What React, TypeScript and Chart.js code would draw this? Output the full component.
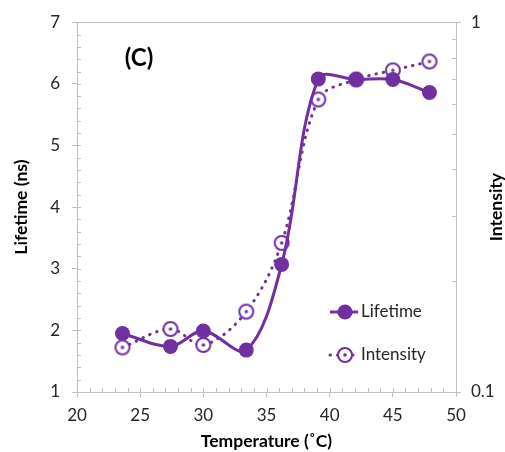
import React, { useEffect, useRef } from 'react';
import { Chart, registerables } from 'chart.js';

Chart.register(...registerables);

// ---- data ----
const temperatures = [23.6, 27.4, 30.0, 33.4, 36.2, 39.1, 42.1, 45.0, 47.9];
const lifetime = [1.95, 1.74, 1.99, 1.68, 3.07, 6.08, 6.07, 6.07, 5.86];
const intensity = [0.132, 0.148, 0.134, 0.165, 0.253, 0.618, 0.70, 0.741, 0.783];
const xTickValues = [20, 25, 30, 35, 40, 45, 50];
const leftTickValues = [1, 2, 3, 4, 5, 6, 7];
const rightTickValues = [0.1, 1];
const seriesLabels = ['Lifetime', 'Intensity'];
const panelLabel = '(C)';
const xTitle = 'Temperature (\u02DAC)';
const leftTitle = 'Lifetime (ns)';
const rightTitle = 'Intensity';

const PURPLE = '#7030A0';
const AXIS = '#BFBFBF';
const TEXT = '#262626';
const FONT = 'Lato, "Open Sans", sans-serif';

function makeRingMarker(): HTMLCanvasElement {
  const c = document.createElement('canvas');
  c.width = 18;
  c.height = 18;
  const g = c.getContext('2d')!;
  g.beginPath();
  g.arc(9, 9, 7, 0, Math.PI * 2);
  g.fillStyle = '#ffffff';
  g.fill();
  g.lineWidth = 2;
  g.strokeStyle = PURPLE;
  g.stroke();
  g.beginPath();
  g.arc(9, 9, 1.8, 0, Math.PI * 2);
  g.fillStyle = PURPLE;
  g.fill();
  return c;
}

export default function App() {
  const ref = useRef<HTMLCanvasElement | null>(null);

  useEffect(() => {
    if (!ref.current) return;
    const ring = makeRingMarker();

    const decorPlugin = {
      id: 'decor',
      afterDraw(chart: any) {
        const { ctx, chartArea, scales } = chart;
        const { left, right, top, bottom } = chartArea;
        const x = scales.x, y = scales.y, y1 = scales.y1;
        ctx.save();
        ctx.strokeStyle = AXIS;
        ctx.lineWidth = 1;
        const line = (x1: number, yA: number, x2: number, yB: number) => {
          ctx.beginPath();
          ctx.moveTo(x1, yA);
          ctx.lineTo(x2, yB);
          ctx.stroke();
        };
        // top border
        line(left, Math.round(top) + 0.5, right, Math.round(top) + 0.5);
        // x minor/inside ticks
        for (let v = 20; v <= 50; v++) {
          const px = Math.round(x.getPixelForValue(v)) + 0.5;
          line(px, bottom, px, bottom - 4);
        }
        // left inside ticks every 0.2
        for (let i = 0; i <= 30; i++) {
          const v = 1 + i * 0.2;
          const py = Math.round(y.getPixelForValue(v)) + 0.5;
          line(left, py, left + 4, py);
        }
        // right inside ticks (log minor)
        for (let i = 1; i <= 10; i++) {
          const v = i / 10;
          const py = Math.round(y1.getPixelForValue(v)) + 0.5;
          line(right, py, right - 4, py);
        }

        // panel label
        ctx.fillStyle = '#000';
        ctx.font = `bold 24px ${FONT}`;
        ctx.textAlign = 'center';
        ctx.textBaseline = 'middle';
        ctx.fillText(panelLabel, 139, 58);

        // right title
        ctx.save();
        ctx.translate(496, (top + bottom) / 2);
        ctx.rotate(-Math.PI / 2);
        ctx.font = `bold 17.5px ${FONT}`;
        ctx.fillStyle = '#000';
        ctx.textAlign = 'center';
        ctx.textBaseline = 'middle';
        ctx.fillText(rightTitle, 0, 0);
        ctx.restore();

        // legend
        const lx1 = 330, lx2 = 358, mx = 345;
        const rows = [312, 355];
        ctx.strokeStyle = PURPLE;
        ctx.lineWidth = 3;
        ctx.lineCap = 'butt';
        line(lx1, rows[0], lx2, rows[0]);
        ctx.beginPath();
        ctx.arc(mx, rows[0], 7.5, 0, Math.PI * 2);
        ctx.fillStyle = PURPLE;
        ctx.fill();
        ctx.setLineDash([0.5, 7]);
        ctx.lineCap = 'round';
        line(lx1, rows[1], lx2, rows[1]);
        ctx.setLineDash([]);
        ctx.drawImage(ring, mx - ring.width / 2, rows[1] - ring.height / 2);
        ctx.fillStyle = TEXT;
        ctx.font = `17px ${FONT}`;
        ctx.textAlign = 'left';
        ctx.textBaseline = 'middle';
        ctx.fillText(seriesLabels[0], 361, rows[0]);
        ctx.fillText(seriesLabels[1], 361, rows[1]);
        ctx.restore();
      },
    };

    const tickFont = { size: 17, family: FONT };
    const titleFont = { size: 17.5, weight: 'bold', family: FONT };

    const chart = new Chart(ref.current, {
      type: 'line',
      data: {
        datasets: [
          {
            label: seriesLabels[0],
            data: temperatures.map((t, i) => ({ x: t, y: lifetime[i] })),
            yAxisID: 'y',
            borderColor: PURPLE,
            backgroundColor: PURPLE,
            borderWidth: 3,
            tension: 0.35,
            pointRadius: 7.5,
            pointBorderWidth: 0,
            pointBackgroundColor: PURPLE,
          },
          {
            label: seriesLabels[1],
            data: temperatures.map((t, i) => ({ x: t, y: intensity[i] })),
            yAxisID: 'y1',
            borderColor: PURPLE,
            backgroundColor: PURPLE,
            borderWidth: 3,
            borderDash: [0.5, 7],
            borderCapStyle: 'round',
            tension: 0.35,
            pointStyle: ring as any,
            pointRadius: 8,
          },
        ],
      },
      options: {
        responsive: false,
        animation: false,
        events: [],
        layout: { autoPadding: false, padding: { top: 20, left: 0, right: 0, bottom: 0 } },
        plugins: { legend: { display: false }, tooltip: { enabled: false } },
        scales: {
          x: {
            type: 'linear',
            min: 20,
            max: 50,
            afterBuildTicks: (s: any) => { s.ticks = xTickValues.map((v) => ({ value: v })); },
            afterFit: (s: any) => { s.height = 60; },
            grid: { drawOnChartArea: false, color: AXIS, tickLength: 5 },
            border: { color: AXIS },
            ticks: { font: tickFont, color: TEXT, padding: 8, maxRotation: 0 },
            title: {
              display: true,
              text: xTitle,
              font: titleFont,
              color: '#000',
              padding: { top: 0, bottom: 0 },
            },
          },
          y: {
            type: 'linear',
            position: 'left',
            min: 1,
            max: 7,
            afterBuildTicks: (s: any) => { s.ticks = leftTickValues.map((v) => ({ value: v })); },
            afterFit: (s: any) => { s.width = 77; },
            grid: { drawOnChartArea: false, color: AXIS, tickLength: 5 },
            border: { color: AXIS },
            ticks: { font: tickFont, color: TEXT, padding: 12 },
            title: {
              display: true,
              text: leftTitle,
              font: titleFont,
              color: '#000',
              padding: { top: 11, bottom: 0 },
            },
          },
          y1: {
            type: 'logarithmic',
            position: 'right',
            min: 0.1,
            max: 1,
            afterBuildTicks: (s: any) => { s.ticks = rightTickValues.map((v) => ({ value: v })); },
            afterFit: (s: any) => { s.width = 49; },
            grid: { drawOnChartArea: false, color: AXIS, tickLength: 5 },
            border: { color: AXIS },
            ticks: {
              font: tickFont,
              color: TEXT,
              padding: 10,
              callback: (v: any) => String(v),
            },
          },
        },
      },
      plugins: [decorPlugin],
    } as any);

    return () => chart.destroy();
  }, []);

  return (
    <div style={{ position: 'absolute', left: 0, top: 0, width: 505, height: 452, background: '#fff' }}>
      <canvas ref={ref} width={505} height={452} style={{ display: 'block' }} />
    </div>
  );
}
